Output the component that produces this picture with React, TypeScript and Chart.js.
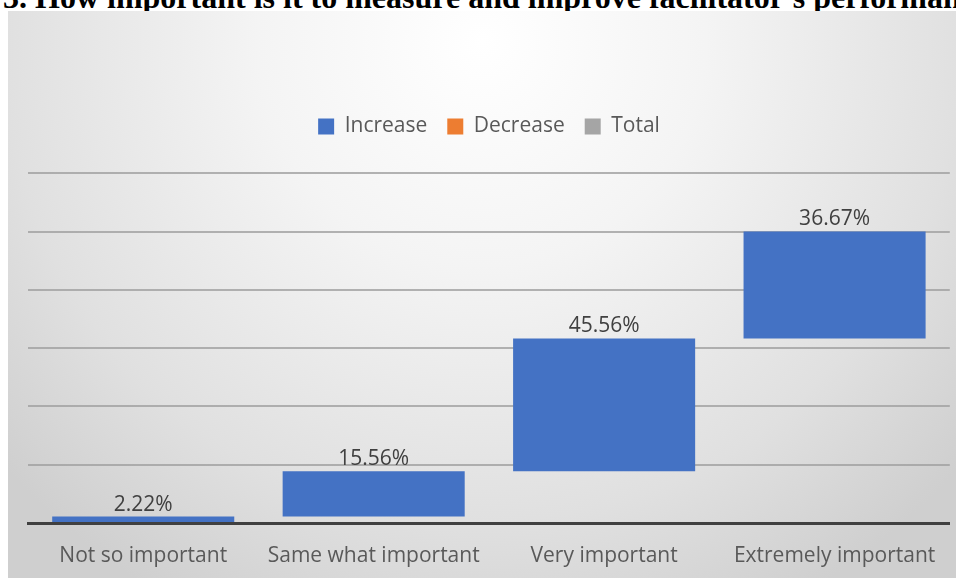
import React, { useEffect, useRef } from "react";
import { Chart, registerables } from "chart.js";

Chart.register(...registerables);

const TITLE = "3. How important is it to measure and improve facilitator's performance?";
const categories = ["Not so important", "Same what important", "Very important", "Extremely important"];
const increaseValues = [2.22, 15.56, 45.56, 36.67];
const valueLabels = ["2.22%", "15.56%", "45.56%", "36.67%"];
const legendNames = ["Increase", "Decrease", "Total"];
const legendColors = ["#4472C4", "#ED7D31", "#A5A5A5"];
const gridTicks = [0, 20, 40, 60, 80, 100, 120];

const FONT = "'Open Sans', Lato, sans-serif";

function floatingBars(values: number[]): [number, number][] {
  const out: [number, number][] = [];
  let start = 0;
  for (const v of values) {
    out.push([start, start + v]);
    start += v;
  }
  return out;
}

const backgroundPlugin = {
  id: "bgGradient",
  beforeDraw(chart: any) {
    const { ctx, width, height } = chart;
    ctx.save();
    const g = ctx.createRadialGradient(width / 2, 30, 0, width / 2, 30, 640);
    g.addColorStop(0, "#ffffff");
    g.addColorStop(0.35, "#f4f4f4");
    g.addColorStop(0.75, "#e0e0e0");
    g.addColorStop(1, "#cfcfcf");
    ctx.fillStyle = g;
    ctx.fillRect(0, 0, width, height);
    ctx.restore();
  },
};

const valueLabelPlugin = {
  id: "valueLabels",
  afterDatasetsDraw(chart: any) {
    const { ctx } = chart;
    const meta = chart.getDatasetMeta(0);
    ctx.save();
    ctx.font = `21px ${FONT}`;
    ctx.fillStyle = "#404040";
    ctx.textAlign = "center";
    ctx.textBaseline = "alphabetic";
    meta.data.forEach((el: any, i: number) => {
      const top = Math.min(el.y, el.base);
      ctx.fillText(valueLabels[i], el.x, top - 6);
    });
    ctx.restore();
  },
};

export default function App() {
  const ref = useRef<HTMLCanvasElement | null>(null);

  useEffect(() => {
    if (!ref.current) return;
    const chart = new Chart(ref.current, {
      type: "bar",
      data: {
        labels: categories,
        datasets: [
          {
            label: legendNames[0],
            data: floatingBars(increaseValues) as any,
            backgroundColor: legendColors[0],
            borderWidth: 0,
          },
          {
            label: legendNames[1],
            data: [] as any,
            backgroundColor: legendColors[1],
            borderWidth: 0,
          },
          {
            label: legendNames[2],
            data: [] as any,
            backgroundColor: legendColors[2],
            borderWidth: 0,
          },
        ],
      },
      options: {
        responsive: false,
        animation: false,
        layout: { padding: { left: 20, right: 6, top: 85, bottom: 0 } },
        datasets: {
          bar: {
            grouped: false,
            barPercentage: 0.79,
            categoryPercentage: 1,
          },
        } as any,
        plugins: {
          legend: {
            position: "top",
            labels: {
              boxWidth: 16,
              boxHeight: 16,
              padding: 20,
              color: "#595959",
              font: { family: FONT, size: 21 },
            },
          },
          tooltip: { enabled: false },
          title: { display: false },
        },
        scales: {
          x: {
            grid: { display: false, drawTicks: false },
            border: { display: true, color: "#404040", width: 3 },
            ticks: {
              color: "#595959",
              padding: 20,
              font: { family: FONT, size: 21 },
              maxRotation: 0,
              autoSkip: false,
            },
            afterFit: (scale: any) => {
              scale.height = 55;
            },
          },
          y: {
            min: 0,
            max: 129,
            grid: {
              display: true,
              drawTicks: false,
              lineWidth: 2,
              color: (c: any) => (c.tick && c.tick.value === 0 ? "rgba(0,0,0,0)" : "rgba(160,160,160,0.8)"),
            },
            border: { display: false },
            ticks: { display: false },
            afterBuildTicks: (scale: any) => {
              scale.ticks = gridTicks.map((v) => ({ value: v }));
            },
            afterFit: (scale: any) => {
              scale.width = 0;
            },
          },
        },
      },
      plugins: [backgroundPlugin, valueLabelPlugin],
    });
    return () => chart.destroy();
  }, []);

  return (
    <div style={{ position: "absolute", left: 0, top: 0, width: 956, height: 578, overflow: "hidden", background: "#ffffff" }}>
      <div
        style={{
          position: "absolute",
          left: 3,
          top: -19,
          whiteSpace: "nowrap",
          fontFamily: "'Liberation Serif', 'Times New Roman', serif",
          fontWeight: "bold",
          fontSize: 32,
          lineHeight: "33px",
          color: "#000000",
        }}
      >
        {TITLE}
      </div>
      <div style={{ position: "absolute", left: 8, top: 11, width: 948, height: 567 }}>
        <canvas ref={ref} width={948} height={567} style={{ display: "block" }} />
      </div>
    </div>
  );
}
